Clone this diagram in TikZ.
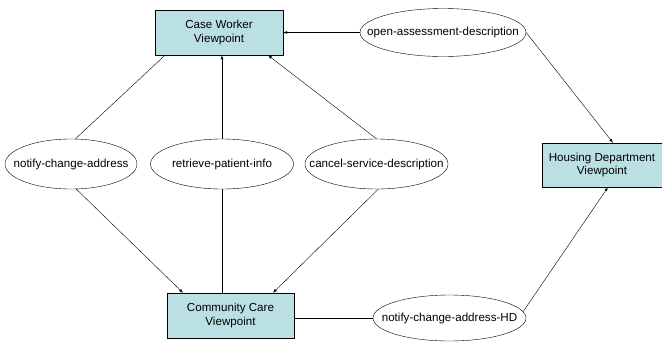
\documentclass[tikz,border=0pt]{standalone}
\usepackage{fontspec}
\setmainfont{Liberation Sans}
\usetikzlibrary{arrows,shapes.geometric}
\definecolor{vpfill}{RGB}{187,224,227}

\begin{document}
\begin{tikzpicture}[x=1pt,y=-1pt,
  font=\fontsize{11.6}{13.5}\selectfont,
  viewpoint/.style={draw,fill=vpfill,minimum width=128pt,minimum height=45pt,align=center,inner sep=0pt},
  relation/.style={draw,ellipse,minimum height=50pt,inner sep=0pt}]
\useasboundingbox (0,0) rectangle (662,341);
% viewpoints
\node[viewpoint] (cw) at (219,32.5) {Case Worker\\Viewpoint};
\node[viewpoint,minimum width=127pt] (cc) at (230.5,315.5) {Community Care\\Viewpoint};
\node[viewpoint,minimum width=120pt,minimum height=44pt] (hd) at (602,165) {Housing Department\\Viewpoint};
% relations between viewpoints
\node[relation,minimum width=166pt,minimum height=48pt] (oad) at (443,32.5) {\makebox[0pt]{open-assessment-description}};
\node[relation,minimum width=132pt] (nca) at (71,164) {\makebox[0pt]{notify-change-address}};
\node[relation,minimum width=143pt] (rpi) at (222,164) {\makebox[0pt]{retrieve-patient-info}};
\node[relation,minimum width=143pt] (csd) at (376.5,164) {\makebox[0pt]{cancel-service-description}};
\node[relation,minimum width=153pt,minimum height=46pt] (ncahd) at (449.5,318) {\makebox[0pt]{notify-change-address-HD}};
% connectors
\draw[-latex] (oad) -- (cw);
\draw[-latex] (oad.east) -- ([xshift=11pt]hd.north);
\draw (nca.80) -- ([xshift=-54pt]cw.south);
\draw[-latex] (nca.-78) -- ([xshift=-47.5pt]cc.north);
\draw[-latex] (rpi.north) -- (cw.south -| rpi.north);
\draw (rpi.south) -- (cc.north -| rpi.south);
\draw[-latex] (csd.north) -- ([xshift=49pt]cw.south);
\draw[-latex] (csd.-86) -- ([xshift=42.5pt]cc.north);
\draw (cc.east |- ncahd) -- (ncahd);
\draw[-latex] (ncahd.5) -- ([xshift=6pt]hd.south);
\end{tikzpicture}
\end{document}
